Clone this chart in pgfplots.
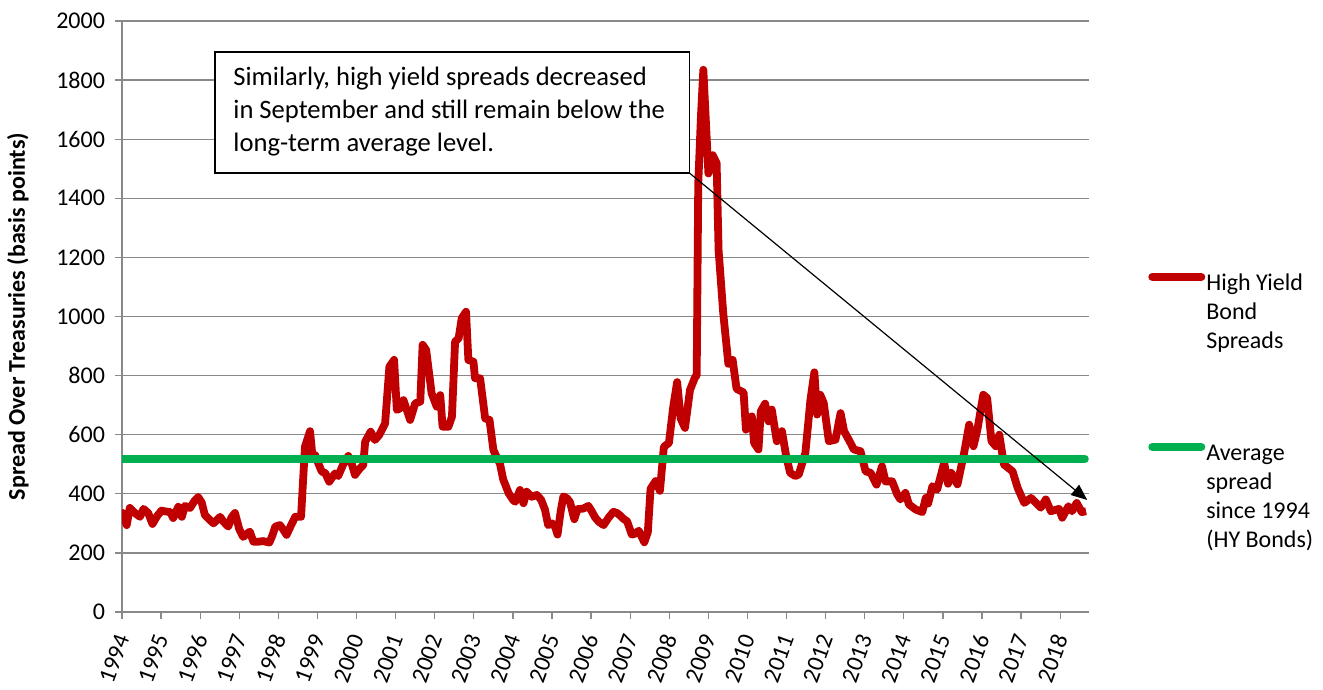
\documentclass[border=0pt]{standalone}
\usepackage{fontspec}
\setmainfont{Carlito}
\usepackage{pgfplots}
\pgfplotsset{compat=1.18}
\usetikzlibrary{arrows.meta}
\definecolor{hyred}{HTML}{C00000}
\definecolor{avggreen}{HTML}{00B050}
\definecolor{gridgray}{HTML}{898989}

\begin{document}
\begin{tikzpicture}
\path[use as bounding box] (-61pt,-39pt) rectangle (600.5pt,306pt);
\begin{axis}[
  scale only axis,
  width=483.4pt, height=295.5pt,
  xmin=1994, xmax=2018.73,
  ymin=0, ymax=2000,
  xtick={1994,...,2018},
  ytick={0,200,...,2000},
  axis lines*=left,
  axis line style={gridgray, line width=0.75pt, -},
  ymajorgrids,
  grid style={gridgray, line width=0.65pt},
  tick style={gridgray, line width=0.65pt},
  tick align=outside,
  major tick length=3.5pt,
  /pgf/number format/assume math mode=true,
  /pgf/number format/1000 sep={},
  ticklabel style={font=\fontsize{12}{14}\selectfont},
  xticklabel style={rotate=70, anchor=east, xshift=-4.2pt, yshift=-3.1pt},
  yticklabel style={xshift=-1.5pt},
  ylabel={Spread Over Treasuries (basis points)},
  ylabel style={at={(axis description cs:-0.1076,0.5)}, anchor=center, font=\fontsize{12}{14}\selectfont\bfseries},
  legend style={at={(rel axis cs:1.0571,0.5787)}, anchor=north west, draw=none, fill=none,
    inner sep=0pt, row sep=0pt, column sep=0.5pt,
    font=\fontsize{12}{14.5}\selectfont,
    nodes={inner xsep=0pt, inner ysep=1.25pt, text height=9pt, text depth=3pt}},
  legend cell align=left,
  legend image code/.code={\path (0pt,0pt); \draw[line cap=round, line width=4pt] (2pt,4pt) -- (26.5pt,4pt);},
]
% high yield spread, monthly-ish readings
\addplot[hyred, line width=3.9pt, line join=round] coordinates {
(1994.00,330) (1994.02,335) (1994.12,294) (1994.20,352) (1994.33,335) (1994.46,322)
(1994.55,349) (1994.67,335) (1994.78,298) (1994.90,325) (1995.01,343) (1995.12,340)
(1995.23,339) (1995.31,318) (1995.44,356) (1995.53,322) (1995.61,359) (1995.74,352)
(1995.85,375) (1995.95,389) (1996.04,370) (1996.12,328) (1996.22,315) (1996.34,300)
(1996.51,322) (1996.60,305) (1996.72,289) (1996.80,320) (1996.89,335) (1997.00,280)
(1997.10,254) (1997.20,265) (1997.27,272) (1997.36,238) (1997.50,238) (1997.61,240)
(1997.77,235) (1997.85,260) (1997.92,289) (1998.04,294) (1998.12,280) (1998.21,261)
(1998.33,295) (1998.43,322) (1998.58,322) (1998.68,559) (1998.81,612) (1998.87,530)
(1998.94,531) (1999.03,500) (1999.11,475) (1999.20,470) (1999.30,441) (1999.45,469)
(1999.53,460) (1999.66,500) (1999.79,528) (1999.88,500) (1999.96,464) (2000.08,485)
(2000.17,497) (2000.22,576) (2000.36,610) (2000.47,582) (2000.58,599) (2000.73,638)
(2000.84,830) (2000.96,853) (2001.03,684) (2001.12,690) (2001.20,717) (2001.37,650)
(2001.50,706) (2001.63,712) (2001.69,904) (2001.78,887) (2001.92,740) (2002.05,695)
(2002.14,734) (2002.20,627) (2002.35,627) (2002.44,661) (2002.52,915) (2002.61,926)
(2002.69,994) (2002.80,1016) (2002.86,853) (2002.99,847) (2003.03,791) (2003.16,791)
(2003.29,655) (2003.40,650) (2003.50,548) (2003.60,520) (2003.67,501) (2003.75,449)
(2003.89,402) (2004.01,378) (2004.06,373) (2004.18,413) (2004.27,368) (2004.35,407)
(2004.48,390) (2004.61,396) (2004.72,380) (2004.82,346) (2004.90,294) (2005.00,300)
(2005.08,288) (2005.14,262) (2005.22,340) (2005.29,391) (2005.38,385) (2005.46,372)
(2005.57,314) (2005.65,348) (2005.80,350) (2005.93,359) (2006.02,340) (2006.10,320)
(2006.20,305) (2006.32,294) (2006.45,320) (2006.57,339) (2006.66,335) (2006.74,327)
(2006.83,315) (2006.92,307) (2007.04,262) (2007.12,265) (2007.22,275) (2007.36,236)
(2007.45,270) (2007.52,417) (2007.65,443) (2007.76,410) (2007.86,559) (2007.99,572)
(2008.10,694) (2008.20,778) (2008.29,655) (2008.40,623) (2008.53,752) (2008.66,795)
(2008.70,800) (2008.74,1450) (2008.81,1680) (2008.87,1835) (2009.00,1484) (2009.11,1546)
(2009.21,1519) (2009.26,1225) (2009.38,1010) (2009.51,840) (2009.62,853) (2009.72,755)
(2009.90,743) (2009.96,617) (2010.11,662) (2010.17,572) (2010.28,550) (2010.34,679)
(2010.45,705) (2010.54,645) (2010.62,685) (2010.75,578) (2010.88,612) (2010.99,527)
(2011.09,471) (2011.22,460) (2011.31,465) (2011.48,538) (2011.61,718) (2011.71,811)
(2011.78,668) (2011.86,735) (2011.95,707) (2012.08,578) (2012.25,583) (2012.38,673)
(2012.47,612) (2012.59,583) (2012.72,550) (2012.89,544) (2013.02,476) (2013.15,471)
(2013.30,431) (2013.44,493) (2013.53,442) (2013.70,442) (2013.83,398) (2013.91,381)
(2014.04,403) (2014.13,364) (2014.30,347) (2014.47,338) (2014.56,386) (2014.62,367)
(2014.73,426) (2014.85,414) (2015.03,505) (2015.13,434) (2015.21,471) (2015.37,432)
(2015.54,538) (2015.67,634) (2015.78,561) (2015.88,617) (2016.03,735) (2016.13,724)
(2016.24,578) (2016.35,561) (2016.44,600) (2016.56,499) (2016.78,476) (2016.91,420)
(2017.08,369) (2017.25,386) (2017.50,353) (2017.63,381) (2017.76,341) (2017.97,349)
(2018.05,319) (2018.21,358) (2018.30,341) (2018.42,369) (2018.55,338) (2018.66,341)
};
\addlegendentry{High Yield}
\addlegendimage{empty legend}\addlegendentry{Bond}
\addlegendimage{empty legend}\addlegendentry{Spreads}
\addlegendimage{empty legend}\addlegendentry[text height=36pt]{}
% long-run average
\addplot[avggreen, line width=3.9pt, line cap=round] coordinates {(1994,518) (2018.63,518)};
\addlegendentry{Average}
\addlegendimage{empty legend}\addlegendentry{spread}
\addlegendimage{empty legend}\addlegendentry{since 1994}
\addlegendimage{empty legend}\addlegendentry{(HY Bonds)}

\draw[black, line width=0.65pt, fill=white] (axis cs:1996.38,1895) rectangle (axis cs:2008.51,1486);
\node[anchor=west, align=left, inner sep=0pt, font=\fontsize{13.3}{16.5}\selectfont]
  at (axis cs:1996.84,1692) {Similarly, high yield spreads decreased\\in September and still remain below the\\long-term average level.};
\draw[black, line width=0.6pt, -{Triangle[length=8pt,width=6.5pt]}] (axis cs:2008.51,1486) -- (axis cs:2018.69,379);
\end{axis}
\end{tikzpicture}
\end{document}
